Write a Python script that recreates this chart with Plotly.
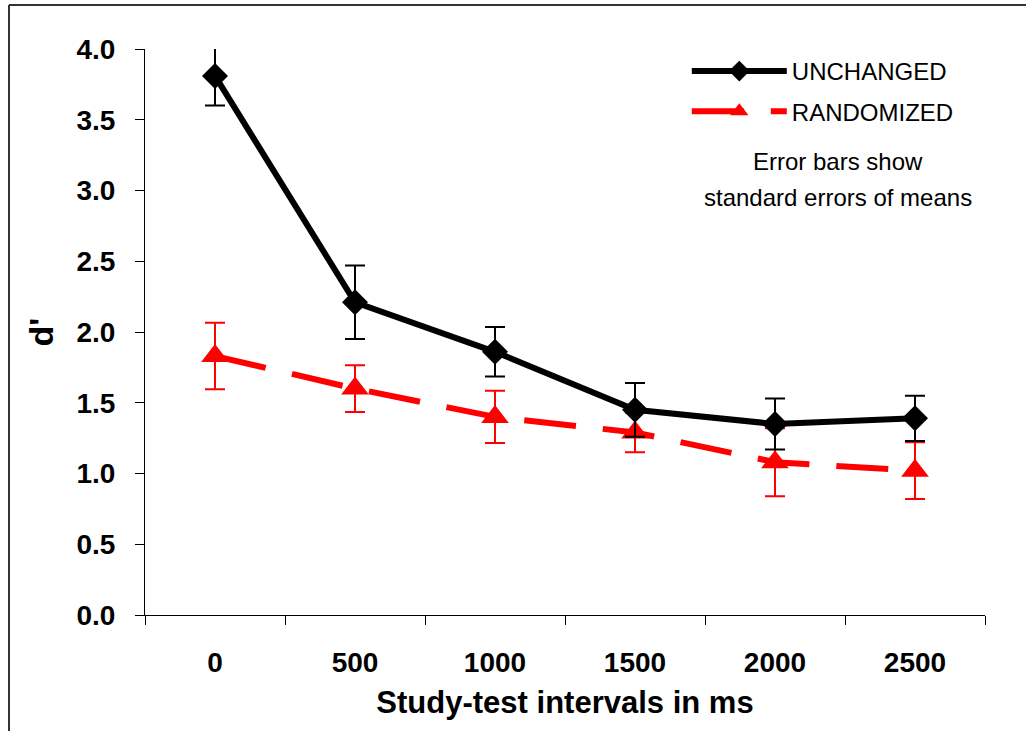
import plotly.graph_objects as go

intervals = [0, 500, 1000, 1500, 2000, 2500]
tick_labels = ["0", "500", "1000", "1500", "2000", "2500"]
unchanged = [3.81, 2.21, 1.86, 1.45, 1.35, 1.39]
unchanged_se = [0.21, 0.26, 0.175, 0.19, 0.18, 0.16]
randomized = [1.83, 1.60, 1.40, 1.29, 1.08, 1.02]
randomized_se = [0.235, 0.165, 0.185, 0.14, 0.24, 0.2]
note_lines = ["Error bars show", "standard errors of means"]

FONT = "Liberation Sans, Arial, sans-serif"

fig = go.Figure()

fig.add_trace(go.Scatter(
    x=intervals, y=randomized, name="RANDOMIZED", legendgroup="r", legendrank=2,
    mode="lines+markers",
    line=dict(color="#ff0000", width=6, dash="52px,27px"),
    marker=dict(symbol="triangle-up", size=24, color="#ff0000"),
    error_y=dict(type="data", array=randomized_se, color="#ff0000", thickness=2, width=10),
))
fig.add_trace(go.Scatter(
    x=intervals, y=unchanged, name="UNCHANGED", legendgroup="u", legendrank=1,
    mode="lines+markers",
    line=dict(color="#000000", width=6),
    marker=dict(symbol="diamond", size=20, color="#000000"),
    error_y=dict(type="data", array=unchanged_se, color="#000000", thickness=2, width=10),
))

# outer frame (left and top edges visible in the reference)
fig.add_shape(type="line", xref="paper", yref="paper",
              x0=-0.1619, x1=-0.1619, y0=1.0777, y1=-0.3, line=dict(color="#333333", width=2))
fig.add_shape(type="line", xref="paper", yref="paper",
              x0=-0.1619, x1=1.2, y0=1.0777, y1=1.0777, line=dict(color="#333333", width=2))

for txt, yy in zip(note_lines, [0.802, 0.7385]):
    fig.add_annotation(
        xref="paper", yref="paper", x=0.825, y=yy, xanchor="center", yanchor="middle",
        text=txt, showarrow=False,
        font=dict(family=FONT, size=24, color="#000000"),
    )

fig.update_layout(
    width=1026, height=731,
    margin=dict(l=145, r=41, t=49, b=116),
    paper_bgcolor="white", plot_bgcolor="white",
    font=dict(family=FONT, color="#000000"),
    showlegend=True,
    legend=dict(
        x=0.645, y=1.0, xanchor="left", yanchor="top",
        traceorder="grouped",
        font=dict(family=FONT, size=24, color="#000000"),
        itemwidth=95, bgcolor="rgba(0,0,0,0)", borderwidth=0,
        tracegroupgap=6,
    ),
    xaxis=dict(
        range=[-250, 2750], tickvals=intervals, ticktext=tick_labels,
        ticks="", showgrid=False, zeroline=False,
        showline=True, linecolor="#000000", linewidth=1,
        tickfont=dict(family=FONT, size=28, color="#000000", weight="bold"),
        ticklabelstandoff=22,
        minor=dict(tick0=-250, dtick=500, ticks="outside", ticklen=9,
                   tickcolor="#000000", tickwidth=1, showgrid=False),
        title=dict(text="Study-test intervals in ms", standoff=14,
                   font=dict(family=FONT, size=31, color="#000000", weight="bold")),
    ),
    yaxis=dict(
        range=[0, 4], dtick=0.5, tickformat=".1f",
        ticks="outside", ticklen=9, tickcolor="#000000", tickwidth=1,
        showgrid=False, zeroline=False,
        showline=True, linecolor="#000000", linewidth=1,
        tickfont=dict(family=FONT, size=28, color="#000000", weight="bold"),
        ticklabelstandoff=14,
        title=dict(text="d'", standoff=12,
                   font=dict(family=FONT, size=34, color="#000000", weight="bold")),
    ),
)

fig.write_html("out.html")
